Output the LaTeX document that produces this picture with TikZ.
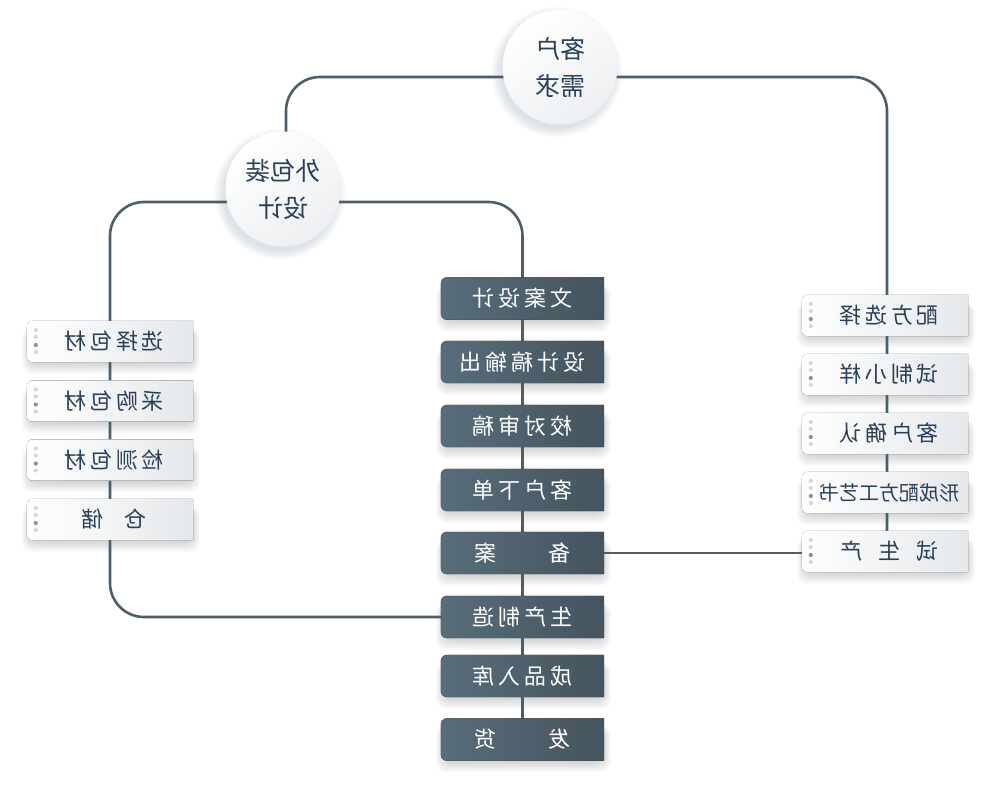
\documentclass[tikz,border=0pt]{standalone}
\usepackage{fontspec}
\usepackage{graphicx}
\newfontfamily\cjk{Noto Sans CJK SC}
\newfontfamily\cjksp[LetterSpace=18]{Noto Sans CJK SC}
\usetikzlibrary{calc}
\definecolor{linec}{HTML}{4E5E69}
\definecolor{dkL}{HTML}{586D7A}
\definecolor{dkR}{HTML}{45545E}
\definecolor{ltR}{HTML}{E5E8EB}
\definecolor{txt}{HTML}{2A4058}
\definecolor{dotc}{HTML}{D3D8DD}
\definecolor{dotd}{HTML}{87939C}
\definecolor{shc}{HTML}{8FA3B2}
\pgfdeclarelayer{shadowlayer}
\pgfdeclarelayer{linelayer}
\pgfdeclarelayer{shapelayer}
\pgfsetlayers{shadowlayer,linelayer,shapelayer,main}
\tikzset{
  conn/.style={draw=linec, line width=2.6pt, rounded corners=34pt},
  dbox/.style={minimum width=163pt, minimum height=42pt, inner sep=0pt, text=white, font=\cjksp\fontsize{22}{22}\selectfont},
  lbox/.style={minimum width=166pt, minimum height=41pt, inner sep=0pt, text=txt, font=\cjksp\fontsize{22}{22}\selectfont},
  cnode/.style={circle, minimum size=115pt, inner sep=0pt, top color=white, bottom color=ltR!70, shading angle=35, text=txt, font=\cjk\fontsize{25}{37}\selectfont, align=center},
}
\newcommand\boxshadow[1]{%
  \foreach \s in {1,...,10}{%
    \fill[black, opacity=0.014, rounded corners=10pt] ($(#1.south west)+(-0.8*\s+3,-1.1*\s-1)$) rectangle ($(#1.north east)+(0.8*\s-1,-8)$);
  }}
\newcommand\circshadow[1]{%
  \foreach \s in {1,...,8}{%
    \fill[shc, opacity=0.04] ($(#1.center)+(-3,-5)$) circle ({55+1.3*\s});
  }}
\newcommand\boxshape[3]{%
  \fill[left color=#2, right color=#3] (#1.north east) -- (#1.south east) -- ([xshift=6pt]#1.south west) arc[start angle=270,end angle=180,radius=6pt] -- ([yshift=-6pt]#1.north west) arc[start angle=180,end angle=90,radius=6pt] -- cycle;}
\newcommand\markdots[1]{%
  \foreach \dy/\c in {11.5/dotc,4.5/dotc,-3.5/dotd,-10.5/dotc}{%
    \fill[\c] ($(#1.west)+(9,\dy)$) circle (2.1);
  }}
\begin{document}
\begin{tikzpicture}[x=1pt,y=1pt]
\useasboundingbox (0,0) rectangle (984,785);
\begin{pgfonlayer}{shadowlayer}
  \fill[white] (0,0) rectangle (984,785);
\end{pgfonlayer}
% circles
\node[cnode] (c1) at (560,718) {\reflectbox{客户}\\\reflectbox{需求}};
\node[cnode] (c2) at (283,596) {\reflectbox{外包装}\\\reflectbox{设计}};
% centre column
\node[dbox] (d1) at (522.5,486.5) {\reflectbox{文案设计}};
\node[dbox] (d2) at (522.5,423) {\reflectbox{设计稿输出}};
\node[dbox] (d3) at (522.5,359) {\reflectbox{校对审稿}};
\node[dbox] (d4) at (522.5,295) {\reflectbox{客户下单}};
\node[dbox] (d5) at (522.5,232) {\reflectbox{备\hspace{52pt}案}};
\node[dbox] (d6) at (522.5,168) {\reflectbox{生产制造}};
\node[dbox] (d7) at (522.5,109) {\reflectbox{成品入库}};
\node[dbox] (d8) at (522.5,45.5) {\reflectbox{发\hspace{52pt}货}};
% left column
\node[lbox] (l1) at (110,443.5) {\hspace*{8pt}\reflectbox{选择包材}};
\node[lbox] (l2) at (110,384) {\hspace*{8pt}\reflectbox{采购包材}};
\node[lbox] (l3) at (110,325) {\hspace*{8pt}\reflectbox{检测包材}};
\node[lbox] (l4) at (110,265.5) {\hspace*{8pt}\reflectbox{仓\hspace{21pt}储}};
% right column
\node[lbox] (r1) at (885,469.5) {\hspace*{8pt}\reflectbox{配方选择}};
\node[lbox] (r2) at (885,410.5) {\hspace*{8pt}\reflectbox{试制小样}};
\node[lbox] (r3) at (885,351.5) {\hspace*{8pt}\reflectbox{客户确认}};
\node[lbox] (r4) at (885,292.5) {\hspace*{8pt}\reflectbox{\cjk\fontsize{20}{20}\selectfont 形成配方工艺书}};
\node[lbox] (r5) at (885,233.5) {\hspace*{8pt}\reflectbox{试\hspace{16pt}生\hspace{16pt}产}};
% shadows
\begin{pgfonlayer}{shadowlayer}
  \circshadow{c1}\circshadow{c2}
  \foreach \n in {d1,d2,d3,d4,d5,d6,d7,d8,l1,l2,l3,l4,r1,r2,r3,r4,r5}{\boxshadow{\n}}
\end{pgfonlayer}
% connectors
\begin{pgfonlayer}{linelayer}
  \draw[conn] ([yshift=-10pt]c1.center) -| ([xshift=3pt]c2.center);
  \draw[conn] ([yshift=-10pt]c1.center) -| ([xshift=2pt]r5.center);
  \draw[conn] ([yshift=-13pt]c2.center) -| (l1.north) |- (d6.center);
  \draw[conn] ([yshift=-13pt]c2.center) -| (d1.center);
  \draw[conn] (d1.center) -- (d8.center);
  \draw[conn] (d5.center) -- (d5.center -| r5.center);
\end{pgfonlayer}
% box shapes
\begin{pgfonlayer}{shapelayer}
  \foreach \n in {d1,d2,d3,d4,d5,d6,d7,d8}{\boxshape{\n}{dkL}{dkR}}
  \foreach \n in {l1,l2,l3,l4,r1,r2,r3,r4,r5}{\boxshape{\n}{white}{ltR}\markdots{\n}}
\end{pgfonlayer}
\end{tikzpicture}
\end{document}
